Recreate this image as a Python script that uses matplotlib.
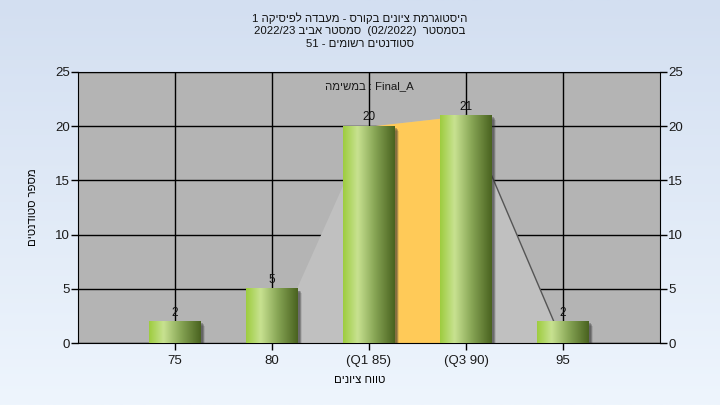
import re

import matplotlib
matplotlib.use("Agg")
import matplotlib.pyplot as plt
import numpy as np
from matplotlib.colors import LinearSegmentedColormap

plt.rcParams["font.family"] = ["Liberation Sans", "DejaVu Sans"]

# ---- data ----
categories = ["75", "80", "(Q1 85)", "(Q3 90)", "95"]
counts = [2, 5, 20, 21, 2]
area_vals = [0, 0, 20, 21, 0]      # light gray area behind the bars
q_span = [2, 3]                    # index range Q1..Q3 (orange)
y_ticks = [0, 5, 10, 15, 20, 25]

title_lines = [
    "היסטוגרמת ציונים בקורס - מעבדה לפיסיקה 1",
    "בסמסטר  (02/2022)  סמסטר אביב 2022/23",
    "סטודנטים רשומים - 51",
]
task_label = "במשימה : Final_A"
x_label = "טווח ציונים"
y_label = "מספר סטודנטים"


def rtl(s):
    """logical RTL string -> visual order (matplotlib has no bidi)"""
    r = s[::-1]
    return re.sub(r"[0-9A-Za-z_/.()]+", lambda m: m.group(0)[::-1], r)


def ltr(s):
    """LTR paragraph with embedded hebrew words"""
    return re.sub(r"[\u0590-\u05FF]+", lambda m: m.group(0)[::-1], s)


fig = plt.figure(figsize=(7.2, 4.05), dpi=100)

# background gradient
bg = fig.add_axes([0, 0, 1, 1], zorder=-10)
bg.imshow(np.linspace(0, 1, 256).reshape(-1, 1), aspect="auto",
          cmap=LinearSegmentedColormap.from_list("bg", ["#d3dff1", "#eef5fd"]),
          extent=[0, 1, 0, 1])
bg.axis("off")

ax = fig.add_axes([78 / 720, 1 - 343 / 405, 582 / 720, 271 / 405])
ax.set_facecolor("#b4b4b4")
x = np.arange(1, len(categories) + 1)

ax.set_axisbelow(True)
ax.grid(True, color="black", lw=1)

# area series
ax.fill_between(x, area_vals, color="#c0c0c0", lw=0, zorder=1)
sl = slice(q_span[0], q_span[1] + 1)
ax.fill_between(x[sl], np.array(area_vals)[sl], color="#ffca58", lw=0, zorder=1.2)
ax.plot(x[3:], area_vals[3:], color="#555555", lw=1, zorder=1.3)
ax.plot(x[:2], area_vals[:2], color="#dddddd", lw=1, zorder=1.3)

# bars with shadow + horizontal gradient
bar_cmap = LinearSegmentedColormap.from_list(
    "bar", [(0, "#9dcc3e"), (0.28, "#c8e291"), (0.62, "#86a454"), (1.0, "#49621f")])
grad = np.linspace(0, 1, 256).reshape(1, -1)
width = 0.53
bars = ax.bar(x, counts, width=width, color="none", zorder=3)
for b in bars:
    for k, a in zip(range(4), [0.12, 0.15, 0.2, 0.3]):
        off = 0.045 - k * 0.008
        ax.add_patch(plt.Rectangle((b.get_x() + off, -0.4 + k * 0.08),
                                   b.get_width(), b.get_height(),
                                   color="#303030", alpha=a, lw=0, zorder=2.5))
    ax.imshow(grad, cmap=bar_cmap, aspect="auto", interpolation="bicubic",
              extent=[b.get_x(), b.get_x() + b.get_width(), 0, b.get_height()],
              zorder=3)

for xi, c in zip(x, counts):
    ax.annotate(str(c), (xi, c), xytext=(0, 2), textcoords="offset points",
                ha="center", va="bottom", fontsize=8.5, color="#111111", zorder=5)

ax.set_xlim(0, len(categories) + 1)
ax.set_ylim(0, 25)
ax.set_xticks(x)
ax.set_xticklabels(categories)
ax.set_yticks(y_ticks)
ax.tick_params(axis="both", direction="out", length=5, width=1, labelsize=9.5,
               colors="black", labelcolor="#1a1a1a")
ax.tick_params(axis="y", right=True, labelright=True, pad=1)
for s in ax.spines.values():
    s.set_color("black")

ax.text(3, 23.7, ltr(task_label), ha="center", va="center", fontsize=8.2,
        color="#1a1a1a", zorder=6)

fig.text(0.5, 1 - 380 / 405, rtl(x_label), ha="center", va="center", fontsize=8.2)
fig.text(33 / 720, 1 - 207 / 405, rtl(y_label), ha="center", va="center",
         rotation=90, fontsize=8.2)

for i, line in enumerate(title_lines):
    fig.text(0.5, 1 - (18 + 13 * i) / 405, rtl(line), ha="center", va="center",
             fontsize=8.2, color="#111111")

fig.savefig("out.png", dpi=100)
